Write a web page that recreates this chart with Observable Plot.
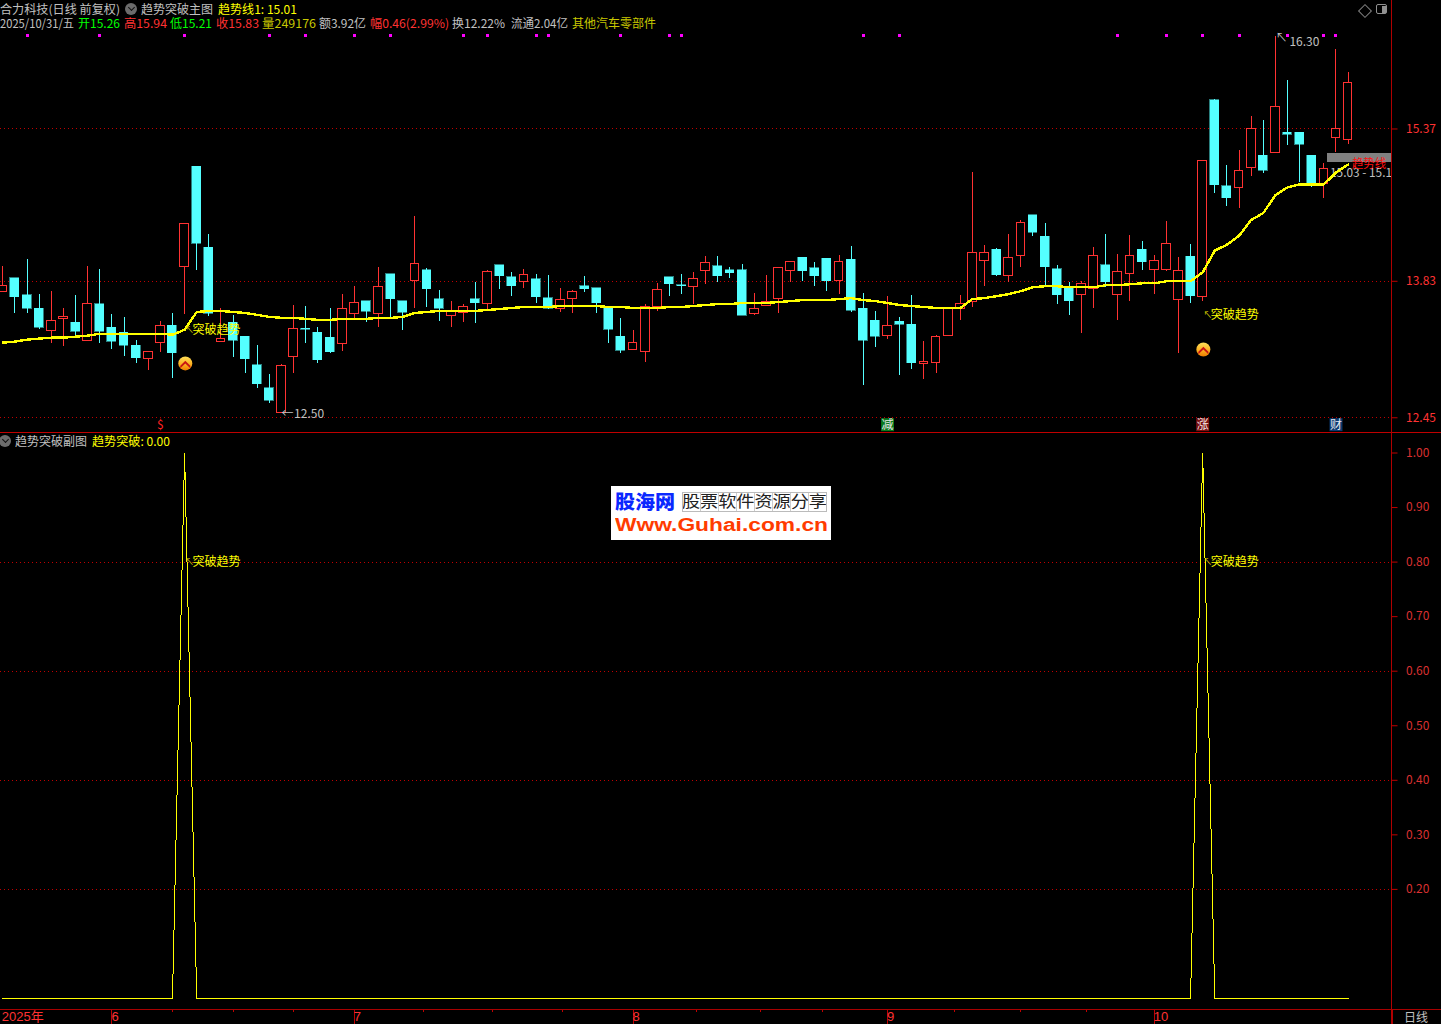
<!DOCTYPE html>
<html lang="zh"><head><meta charset="utf-8">
<script src="https://cdn.jsdelivr.net/npm/d3@7"></script>
<script src="https://cdn.jsdelivr.net/npm/@observablehq/plot@0.6"></script>
<style>
html,body{margin:0;padding:0;background:#000;overflow:hidden}
#stage{position:relative;width:1441px;height:1024px;background:#000;overflow:hidden;font-family:"Noto Sans CJK SC",sans-serif;font-size:12px}
#stage svg{position:absolute;left:0;z-index:1;background:transparent;overflow:visible}
.t{position:absolute;white-space:nowrap;line-height:14px;transform-origin:0 50%;z-index:2}
.l{position:absolute;z-index:3}
</style></head><body><div id="stage"></div>
<script>
const high=[13.98,13.86,14.05,13.70,13.73,13.55,13.69,13.98,13.95,13.49,
13.46,13.23,13.11,13.42,13.50,14.41,14.99,14.30,13.55,13.48,
13.27,13.18,12.89,12.99,13.59,13.58,13.36,13.55,13.70,13.78,
13.63,13.97,13.90,13.63,14.49,13.96,13.74,13.63,13.60,13.82,
13.94,13.99,13.92,13.95,13.90,13.89,13.76,13.74,13.88,13.76,
13.57,13.45,13.33,13.60,13.81,13.87,13.90,13.92,14.08,14.08,
13.97,14.00,13.71,13.89,13.96,14.02,14.07,14.02,14.06,14.09,
14.18,13.71,13.52,13.68,13.46,13.69,13.22,13.28,13.57,13.69,
14.93,14.19,14.16,14.30,14.44,14.50,14.41,13.99,13.82,13.83,
14.17,14.30,14.10,14.29,14.23,14.09,14.43,14.07,14.20,15.05,
15.67,15.00,15.15,15.50,15.46,16.30,15.86,15.33,15.10,15.02,
16.17,15.94];
const low=[13.72,13.50,13.50,13.34,13.20,13.17,13.26,13.23,13.20,13.14,
13.07,13.00,12.93,13.11,12.85,13.49,13.94,13.47,13.22,13.06,
12.90,12.75,12.59,12.50,12.90,13.20,13.00,13.10,13.12,13.45,
13.41,13.36,13.46,13.33,13.55,13.57,13.42,13.36,13.41,13.40,
13.52,13.75,13.68,13.76,13.61,13.54,13.51,13.50,13.72,13.50,
13.20,13.10,13.14,13.01,13.52,13.68,13.70,13.60,13.80,13.82,
13.86,13.48,13.48,13.58,13.50,13.82,13.83,13.78,13.73,13.70,
13.51,12.78,13.16,13.24,12.88,12.94,12.84,12.90,13.28,13.43,
13.57,13.78,13.88,13.82,13.97,14.28,13.77,13.60,13.48,13.30,
13.55,13.77,13.43,13.63,13.94,13.70,13.93,13.10,13.61,13.63,
14.72,14.59,14.57,14.89,14.92,15.13,15.20,14.83,14.78,14.67,
15.13,15.21];
const opens=[13.72,13.86,13.69,13.55,13.33,13.45,13.41,13.23,13.60,13.36,
13.31,13.18,13.04,13.21,13.38,13.97,14.99,14.17,13.22,13.41,
13.27,12.98,12.75,12.50,13.06,13.35,13.31,13.26,13.20,13.50,
13.63,13.50,13.90,13.63,13.83,13.94,13.65,13.48,13.51,13.65,
13.60,13.99,13.87,13.82,13.85,13.66,13.55,13.65,13.78,13.76,
13.57,13.27,13.14,13.12,13.57,13.87,13.79,13.77,13.93,13.98,
13.94,13.94,13.50,13.58,13.65,13.93,14.07,13.96,14.06,13.83,
14.05,13.55,13.43,13.28,13.42,13.39,12.99,13.00,13.28,13.55,
13.62,14.04,14.15,13.88,14.09,14.50,14.28,13.95,13.77,13.69,
13.75,13.99,13.69,13.90,14.15,13.94,13.94,13.64,14.08,13.67,
15.66,14.79,14.77,14.98,15.10,15.13,15.33,15.33,15.10,14.81,
15.28,15.26];
const closes=[13.78,13.67,13.55,13.36,13.43,13.47,13.32,13.60,13.32,13.22,
13.18,13.05,13.11,13.38,13.10,14.41,14.21,13.50,13.25,13.23,
13.04,12.79,12.62,12.97,13.35,13.34,13.03,13.11,13.55,13.61,
13.52,13.77,13.65,13.51,14.00,13.75,13.55,13.52,13.57,13.61,
13.92,13.88,13.78,13.89,13.67,13.55,13.64,13.72,13.75,13.61,
13.34,13.13,13.21,13.57,13.74,13.80,13.78,13.85,14.01,13.88,
13.91,13.48,13.55,13.62,13.96,14.02,13.93,13.88,13.83,14.03,
13.53,13.23,13.27,13.38,13.39,13.00,13.01,13.27,13.56,13.60,
14.12,14.12,13.89,14.07,14.42,14.32,13.97,13.69,13.63,13.80,
14.09,13.82,13.92,14.09,14.02,14.04,14.21,13.93,13.68,15.05,
14.80,14.67,14.95,15.37,14.95,15.59,15.31,15.21,14.81,14.97,
15.37,15.83];
const trend=[13.21,13.22,13.24,13.25,13.26,13.26,13.27,13.28,13.30,13.30,
13.30,13.30,13.30,13.30,13.29,13.34,13.52,13.53,13.53,13.52,
13.51,13.49,13.47,13.46,13.46,13.45,13.44,13.44,13.45,13.45,
13.45,13.46,13.46,13.47,13.51,13.52,13.53,13.53,13.53,13.53,
13.54,13.55,13.56,13.57,13.57,13.57,13.58,13.58,13.58,13.58,
13.57,13.57,13.56,13.56,13.56,13.57,13.57,13.58,13.59,13.60,
13.60,13.61,13.61,13.61,13.62,13.63,13.64,13.64,13.64,13.65,
13.66,13.64,13.63,13.61,13.59,13.58,13.57,13.56,13.56,13.56,
13.65,13.66,13.68,13.70,13.73,13.77,13.78,13.78,13.77,13.77,
13.77,13.79,13.79,13.80,13.81,13.81,13.83,13.83,13.83,13.92,
14.14,14.20,14.29,14.45,14.52,14.70,14.78,14.81,14.81,14.81,
14.93,15.01];
const breakout=[0,0,0,0,0,0,0,0,0,0,0,0,0,0,0,1,0,0,0,0,
0,0,0,0,0,0,0,0,0,0,0,0,0,0,0,0,0,0,0,0,
0,0,0,0,0,0,0,0,0,0,0,0,0,0,0,0,0,0,0,0,
0,0,0,0,0,0,0,0,0,0,0,0,0,0,0,0,0,0,0,0,
0,0,0,0,0,0,0,0,0,0,0,0,0,0,0,0,0,0,0,1,
0,0,0,0,0,0,0,0,0,0,0,0];
const priceTicks=[15.37,13.83,12.45];
const subTicks=[1.0,0.9,0.8,0.7,0.6,0.5,0.4,0.3,0.2];
const subGrid=[0.8,0.6,0.4,0.2];
const magentaBars=[2,8,15,22,25,29,32,38,40,44,45,51,55,56,71,74,92,96,99,102,106,109,110];
const signalBars=[15,99];
const signalIconPrice=[13.00,13.14];
const signalLabelPrice=[13.34,13.49];
const monthBars=[9,29,52,73,95];
const monthNames=["6","7","8","9","10"];
const minorBars=[14,19,24,34.7,40.4,46.2,57.2,62.5,67.6,78.5,84,89.4];
const eventBars=[13,73,99,110];
const eventNames=["$","减","涨","财"];
const eventColors=["none","#0a7a1c","#7a1010","#0c3a70"];
const eventText=["#ff2020","#e8e8e8","#f0e0e0","#e8e8f0"];
const extremes=[{i:23,p:12.50,s:"12.50"},{i:105,p:16.30,s:"16.30"}];

const bars=closes.map((c,i)=>({i,o:opens[i],h:high[i],l:low[i],c,up:c>=opens[i]}));
const RED="#ff3232",CY="#54ffff",DK="#c00000",YL="#ffff00",GR="#c0c0c0";
const FONT='"Noto Sans CJK SC",sans-serif';
const AXF='"Liberation Sans","Noto Sans CJK SC",sans-serif';
const xDomain=[-0.19,114.58];
const chevron={draw(ctx,size){const r=Math.sqrt(size/Math.PI);
  ctx.moveTo(-r,r*.45);ctx.lineTo(0,-r*.55);ctx.lineTo(r,r*.45);ctx.lineTo(r,r*.95);ctx.lineTo(0,0);ctx.lineTo(-r,r*.95);ctx.closePath();}};

const upBars=bars.filter(d=>d.up),downBars=bars.filter(d=>!d.up);
const mainChart=Plot.plot({width:1441,height:433,marginTop:0,marginBottom:0,marginLeft:0,marginRight:50,
  style:{background:"transparent",fontFamily:FONT,fontSize:"12px",color:RED},
  x:{domain:xDomain,axis:null},
  y:{domain:[12.291,16.669],range:[433,0]},
  marks:[
    Plot.ruleY(priceTicks,{stroke:DK,strokeDasharray:"1,3",shapeRendering:"crispEdges"}),
    Plot.axisY(priceTicks,{anchor:"right",tickSize:5.5,tickPadding:9,tickFormat:d3.format(".2f"),color:RED,stroke:DK,label:null,fontSize:12}),
    Plot.ruleX(upBars,{x:"i",y1:"l",y2:"h",stroke:RED,shapeRendering:"crispEdges"}),
    Plot.ruleX(downBars,{x:"i",y1:"l",y2:"h",stroke:CY,shapeRendering:"crispEdges"}),
    Plot.rect(upBars,{x1:d=>d.i-.36,x2:d=>d.i+.36,y1:"o",y2:"c",fill:"#000",stroke:RED,shapeRendering:"crispEdges"}),
    Plot.rect(downBars,{x1:d=>d.i-.37,x2:d=>d.i+.37,y1:"o",y2:"c",fill:CY,stroke:CY,strokeWidth:.5,shapeRendering:"crispEdges"}),
    Plot.dot(magentaBars,{x:d=>d,y:()=>16.32,symbol:"square",r:1.7,fill:"#ff00ff",stroke:"none",shapeRendering:"crispEdges"}),
    Plot.dot(signalBars,{x:d=>d,y:(d,k)=>signalIconPrice[k],r:7,fill:"url(#badge)",stroke:"none",dx:.7}),
    Plot.dot(signalBars,{x:d=>d,y:(d,k)=>signalIconPrice[k],r:5,symbol:chevron,fill:"#c81414",stroke:"none",dx:.7}),
    Plot.line(trend,{x:(d,k)=>k,y:d=>d,stroke:YL,strokeWidth:2.4,curve:"linear",shapeRendering:"crispEdges"}),
    Plot.text(signalBars,{x:d=>d,y:(d,k)=>signalLabelPrice[k],text:()=>"↖",dx:5,fill:"#d8d000",fontSize:9,textAnchor:"middle"}),
    Plot.text(signalBars,{x:d=>d,y:(d,k)=>signalLabelPrice[k],text:()=>"突破趋势",dx:8,textAnchor:"start",fill:YL,fontSize:12}),
    Plot.text(extremes,{x:"i",y:"p",text:d=>d.i===23?"←":"↖",textAnchor:"start",fill:GR,fontSize:12,dy:1}),
    Plot.text(extremes.filter(d=>d.i===23),{x:"i",y:"p",text:"s",dx:12.5,textAnchor:"start",fill:GR,fontSize:12,dy:1}),
    Plot.text(extremes.filter(d=>d.i===105),{x:"i",y:"p",text:"s",dx:14,dy:5.5,textAnchor:"start",fill:GR,fontSize:12}),
    Plot.dot(eventBars,{x:d=>d,y:()=>12.38,symbol:"square",r:7.3,fill:(d,k)=>eventColors[k],stroke:"none"}),
    Plot.text(eventBars,{x:d=>d,y:()=>12.38,text:(d,k)=>eventNames[k],fill:(d,k)=>eventText[k],fontSize:12})
  ]});
mainChart.style.top="0px";
d3.select(mainChart).insert("defs",":first-child").html('<linearGradient id="badge" x1="0" y1="0" x2="0" y2="1"><stop offset="0" stop-color="#ffe05a"/><stop offset=".55" stop-color="#fdb020"/><stop offset="1" stop-color="#ee7c00"/></linearGradient>');

const subChart=Plot.plot({width:1441,height:591,marginTop:0,marginBottom:15,marginLeft:0,marginRight:50,
  style:{background:"transparent",fontFamily:FONT,fontSize:"12px",color:RED},
  x:{domain:xDomain,axis:null},
  y:{domain:[0,1],range:[565,19.5]},
  marks:[
    Plot.ruleY(subGrid,{stroke:DK,strokeDasharray:"1,3",shapeRendering:"crispEdges"}),
    Plot.axisY(subTicks,{anchor:"right",tickSize:5.5,tickPadding:9,tickFormat:d3.format(".2f"),color:"#d83030",stroke:DK,label:null,fontSize:12}),
    Plot.ruleX(monthBars,{x:d=>d,y1:-0.0202,y2:-0.0477,stroke:DK,shapeRendering:"crispEdges"}),
    Plot.ruleX(minorBars,{x:d=>d,y1:-0.0202,y2:-0.0257,stroke:DK,shapeRendering:"crispEdges"}),
    Plot.text(monthBars,{x:d=>d,text:(d,k)=>monthNames[k],frameAnchor:"bottom",lineAnchor:"middle",dy:7,dx:-0.5,textAnchor:"start",fill:RED,fontSize:13,fontFamily:AXF}),
    Plot.text(["2025年"],{x:()=>0,text:d=>d,frameAnchor:"bottom",lineAnchor:"middle",dy:7,dx:-1,textAnchor:"start",fill:RED,fontSize:13,fontFamily:AXF}),
    Plot.line(breakout,{x:(d,k)=>k,y:d=>d,stroke:YL,strokeWidth:1,shapeRendering:"crispEdges"}),
    Plot.text(signalBars,{x:d=>d,y:()=>0.8,text:()=>"↖",dx:5,fill:"#d8d000",fontSize:9}),
    Plot.text(signalBars,{x:d=>d,y:()=>0.8,text:()=>"突破趋势",dx:8,textAnchor:"start",fill:YL,fontSize:12})
  ]});
subChart.style.top="433px";

const stage=document.getElementById("stage");
stage.append(mainChart,subChart);

function hdr(text,x,cy,w,color,extra){
  const s=document.createElement("div");s.className="t";s.textContent=text;
  s.style.left=x+"px";s.style.top=(cy-7)+"px";s.style.color=color;
  if(extra)Object.assign(s.style,extra);
  stage.append(s);
  if(w){const m=s.getBoundingClientRect().width;s.style.transform=`scaleX(${w/m})`;}
  return s;
}
function box(x,y,w,h,css){const d=document.createElement("div");d.className="l";
  Object.assign(d.style,{left:x+"px",top:y+"px",width:w+"px",height:h+"px"},css||{});stage.append(d);return d;}
function circle(cx,cy){
  box(cx-6,cy-6,12,12,{background:"#6c6c6c",borderRadius:"50%"});
  box(cx-2.5,cy-4,5,5,{borderRight:"1.5px solid #111",borderBottom:"1.5px solid #111",transform:"rotate(45deg)",boxSizing:"border-box"});
}
/* frame lines */
box(0,432,1441,1,{background:"#c00000"});
box(0,1009,1441,1,{background:"#a80000"});
box(1391,0,1,1024,{background:"#b00000"});
box(1391,1009,2,15,{background:"#b00000"});
/* price tag behind the plot */
const tag=box(1327,153,64,9,{background:"#808080"});tag.style.zIndex=0;
hdr("趋势线",1352,163,34,"#ff1010",{zIndex:2});
hdr("15.03 - 15.1",1330,172,62,GR,{zIndex:0});
/* row 1 */
hdr("合力科技(日线 前复权)",0,8.5,120,GR);
circle(131,8.5);
hdr("趋势突破主图",141,8.5,72,GR);
hdr("趋势线1: 15.01",218,8.5,79,YL);
/* row 2 */
hdr("2025/10/31/五",0,23,74,GR);
hdr("开15.26",78,23,42,"#00ff00");
hdr("高15.94",124,23,43,RED);
hdr("低15.21",170,23,42,"#00ff00");
hdr("收15.83",216,23,43,RED);
hdr("量249176",262,23,54,"#c8c800");
hdr("额3.92亿",319,23,47,GR);
hdr("幅0.46(2.99%)",370,23,79,RED);
hdr("换12.22%",452,23,53,GR);
hdr("流通2.04亿",511,23,57,GR);
hdr("其他汽车零部件",572,23,84,"#c8c800");
/* top-right icons */
box(1359.7,5.7,8,8,{border:"1px solid #808080",transform:"rotate(45deg)"});
box(1376,4,9,8,{border:"1.5px solid #909090",borderRadius:"2px"});
box(1382,6,4,7,{background:"#909090"});
/* sub header */
circle(5,441);
hdr("趋势突破副图",15,441,72,GR);
hdr("趋势突破: 0.00",92,441,78,YL);
hdr("日线",1404,1017,24,GR);
/* watermark */
box(611,486,220,54,{background:"#fff"});
hdr("股海网",615,501,60,"#0a28ff",{fontWeight:"900",fontSize:"19px",zIndex:4});
hdr("股票软件资源分享",682,502,145,"#222",{fontFamily:'"Liberation Serif","Noto Sans CJK SC",serif',fontSize:"16px",zIndex:4});
box(682,492,145,20,{zIndex:4,boxSizing:"border-box",border:"1px solid #bbb",background:"repeating-linear-gradient(90deg,transparent 0 17px,#ccc 17px 18px)"});
hdr("Www.Guhai.com.cn",615,525,213,"#ff3c00",{fontFamily:'"Liberation Sans",sans-serif',fontWeight:"bold",fontSize:"18px",zIndex:4});
</script></body></html>
